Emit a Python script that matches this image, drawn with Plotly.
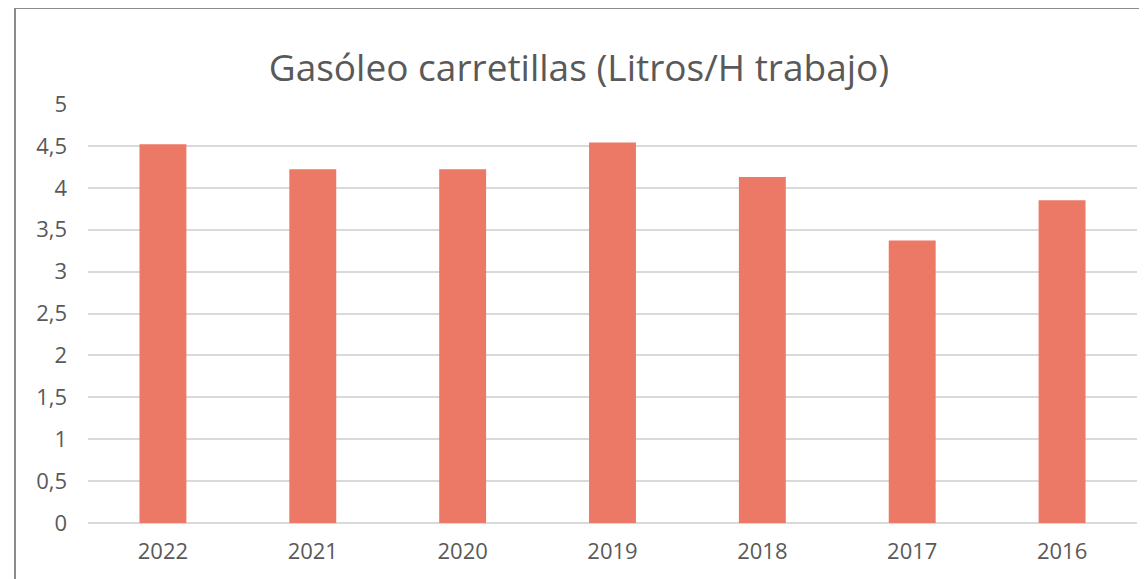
import plotly.graph_objects as go

years = ["2022", "2021", "2020", "2019", "2018", "2017", "2016"]
values = [4.52, 4.22, 4.22, 4.54, 4.13, 3.37, 3.85]
y_ticks = [0, 0.5, 1, 1.5, 2, 2.5, 3, 3.5, 4, 4.5, 5]
y_tick_labels = ["0", "0,5", "1", "1,5", "2", "2,5", "3", "3,5", "4", "4,5", "5"]
title_text = "Gasóleo carretillas (Litros/H trabajo)"

# page body has an 8px margin, so the figure is sized to fit the window
W, H = 1139, 571
ml, mr, mt, mb = 80, 10, 96, 56
pw, ph = W - ml - mr, H - mt - mb

fig = go.Figure(go.Bar(x=years, y=values, marker=dict(color="#EC7866", line=dict(width=0)),
                       hoverinfo="skip"))

def px_x(p):
    return (p - ml) / pw

def px_y(p):
    return (H - mb - p) / ph

fig.update_layout(
    width=W, height=H,
    margin=dict(l=ml, r=mr, t=mt, b=mb),
    paper_bgcolor="white", plot_bgcolor="white",
    bargap=0.687,
    showlegend=False,
    font=dict(family="Open Sans", color="#595959", size=22),
    title=dict(text=title_text, x=571 / W, xanchor="center", y=1 - 60 / H, yanchor="middle",
               font=dict(family="Open Sans", size=37, color="#595959")),
    shapes=[dict(type="rect", xref="paper", yref="paper",
                 x0=px_x(7), x1=px_x(1200), y0=px_y(650), y1=px_y(0),
                 line=dict(color="#8c8c8c", width=2), fillcolor="rgba(0,0,0,0)", layer="above")],
)
fig.update_xaxes(showgrid=False, showline=False, ticks="", ticklabelstandoff=13,
                 tickfont=dict(size=22, color="#595959"))
fig.update_yaxes(range=[0, 5], tickvals=y_ticks, ticktext=y_tick_labels,
                 showgrid=True, gridcolor="#d9d9d9", gridwidth=1.5,
                 zeroline=True, zerolinecolor="#d9d9d9", zerolinewidth=1.5,
                 showline=False, ticks="", ticklabelstandoff=20,
                 tickfont=dict(size=22, color="#595959"))

fig.write_html("out.html")
